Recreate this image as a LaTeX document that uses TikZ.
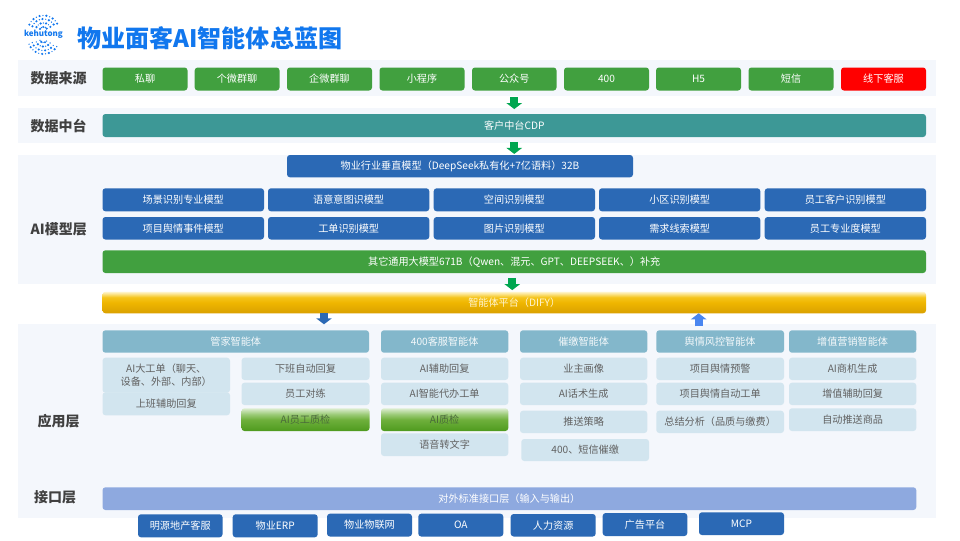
\documentclass[tikz,border=0pt]{standalone}
\usepackage{fontspec}
\setmainfont{Noto Sans CJK SC}
\usetikzlibrary{arrows.meta}
\definecolor{cband}{HTML}{F4F7FC}
\definecolor{cgreen}{HTML}{41A03F}
\definecolor{cteal}{HTML}{3D9896}
\definecolor{cblue}{HTML}{2B69B5}
\definecolor{chead}{HTML}{83B7CB}
\definecolor{citem}{HTML}{D2E5EF}
\definecolor{cif}{HTML}{8EA9DF}
\definecolor{ctitle}{HTML}{1177EE}
\definecolor{clabel}{HTML}{404040}
\definecolor{carrowg}{HTML}{00A650}
\definecolor{carrowb}{HTML}{4A86F0}
\definecolor{dya}{HTML}{DAA000}
\definecolor{dyb}{HTML}{EFB600}
\definecolor{dyc}{HTML}{F5C41A}
\definecolor{dyd}{HTML}{FFF6D0}
\definecolor{qca}{HTML}{4E9A1E}
\definecolor{qcb}{HTML}{6FB03C}
\definecolor{qcc}{HTML}{9CCB78}
\definecolor{qcd}{HTML}{DDEDD0}
\definecolor{qctext}{HTML}{4A6A3A}
\definecolor{dytext}{HTML}{FFF4D0}
\pgfdeclareverticalshading{difyshade}{100bp}{color(0bp)=(dya);color(25bp)=(dya);color(50bp)=(dyb);color(62bp)=(dyc);color(75bp)=(dyd);color(100bp)=(dyd)}
\pgfdeclareverticalshading{qcshade}{100bp}{color(0bp)=(qca);color(25bp)=(qca);color(50bp)=(qcb);color(62bp)=(qcc);color(75bp)=(qcd);color(100bp)=(qcd)}
\tikzset{
  x=0.75pt,y=-0.75pt,
  band/.style={fill=cband,draw=none,inner sep=0pt,outer sep=0pt},
  box/.style={draw=none,rounded corners=2.2pt,inner sep=0pt,outer sep=0pt,align=center,font=\fontsize{7.6}{9.5}\selectfont,text=white},
  srcbox/.style={box,fill=cgreen},
  tealbox/.style={box,fill=cteal},
  bluebox/.style={box,fill=cblue},
  redbox/.style={box,fill=red},
  difybox/.style={box,shading=difyshade,text=dytext},
  headbox/.style={box,fill=chead,text=white!92!chead},
  itembox/.style={box,fill=citem,text=black!62},
  qcbox/.style={box,shading=qcshade,text=qctext},
  ifbox/.style={box,fill=cif},
  layer/.style={inner sep=0pt,font=\fontsize{10.5}{12}\bfseries\selectfont,text=clabel},
  garrow/.style={draw=carrowg,line width=6pt,-{Triangle[width=11.5pt,length=4.5pt]}},
  barrow/.style={draw=cblue,line width=6pt,-{Triangle[width=11.5pt,length=4.5pt]}},
  uarrow/.style={draw=carrowb,line width=6pt,-{Triangle[width=11.5pt,length=4.5pt]}},
}
\newcommand\bx[7]{%
  \pgfmathsetmacro\bw{(#4-#2)*0.75}\pgfmathsetmacro\bh{(#5-#3)*0.75}%
  \node[#6,minimum width=\bw pt,minimum height=\bh pt] (#1) at ({(#2+#4)/2},{(#3+#5)/2}) {#7};}
\begin{document}
\begin{tikzpicture}
\useasboundingbox[fill=white] (0,0) rectangle (960,540);
% bands
\bx{bandA}{18}{60}{936}{96}{band}{}
\bx{bandB}{18}{108}{936}{143}{band}{}
\bx{bandC}{18}{155}{936}{284}{band}{}
\bx{bandD}{18}{324}{936}{518}{band}{}
% logo
\foreach \r/\n/\o in {4/5/8,8/7/3,12/9/12,15.5/11/5}{
  \foreach \i in {1,...,\n}{
    \pgfmathsetmacro\ang{20+140*(\i-0.5)/\n+\o*0.4}
    \fill[ctitle] ({43.5+\r*cos(\ang)},{31-\r*sin(\ang)}) circle ({0.7+0.5*mod(\i,2)});
    \fill[ctitle] ({43.5+\r*cos(\ang+3)},{38.5+\r*sin(\ang+3)}) circle ({0.7+0.5*mod(\i+1,2)});
  }
}
\node[inner sep=0pt,font=\fontsize{6}{7}\bfseries\selectfont,text=ctitle,fill=white,inner xsep=0.3pt,inner ysep=0.2pt] (logo) at (43.5,34.5) {kehutong};
\node[inner sep=0pt,anchor=west,font=\fontsize{18.05}{20}\bfseries\selectfont,text=ctitle] (title) at (77,38) {物业面客AI智能体总蓝图};
% layer labels
\node[layer] (l1) at (58.7,78.5) {数据来源};
\node[layer] (l2) at (58.7,126) {数据中台};
\node[layer] (l3) at (58.7,229) {AI模型层};
\node[layer] (l4) at (58.7,421) {应用层};
\node[layer] (l5) at (55,497) {接口层};
% sources
\bx{s1}{102.5}{67.5}{187.5}{90.5}{srcbox}{私聊}
\bx{s2}{194.7}{67.5}{279.5}{90.5}{srcbox}{个微群聊}
\bx{s3}{287}{67.5}{372}{90.5}{srcbox}{企微群聊}
\bx{s4}{379.5}{67.5}{464.5}{90.5}{srcbox}{小程序}
\bx{s5}{472}{67.5}{556.5}{90.5}{srcbox}{公众号}
\bx{s6}{564}{67.5}{649}{90.5}{srcbox}{400}
\bx{s7}{656}{67.5}{741}{90.5}{srcbox}{H5}
\bx{s8}{748.5}{67.5}{833.5}{90.5}{srcbox}{短信}
\bx{s9}{841}{67.5}{926}{90.5}{redbox}{线下客服}
% CDP
\bx{cdp}{102.5}{114}{926}{137}{tealbox}{客户中台CDP}
% models
\bx{vert}{287}{155}{633}{177.3}{bluebox}{物业行业垂直模型（DeepSeek私有化+7亿语料）32B}
\bx{m11}{102.5}{188.3}{264}{211.3}{bluebox}{场景识别专业模型}
\bx{m12}{268}{188.3}{429.3}{211.3}{bluebox}{语意意图识模型}
\bx{m13}{433.7}{188.3}{595}{211.3}{bluebox}{空间识别模型}
\bx{m14}{599}{188.3}{760.3}{211.3}{bluebox}{小区识别模型}
\bx{m15}{764.7}{188.3}{926}{211.3}{bluebox}{员工客户识别模型}
\bx{m21}{102.5}{217}{264}{239.5}{bluebox}{项目舆情事件模型}
\bx{m22}{268}{217}{429.3}{239.5}{bluebox}{工单识别模型}
\bx{m23}{433.7}{217}{595}{239.5}{bluebox}{图片识别模型}
\bx{m24}{599}{217}{760.3}{239.5}{bluebox}{需求线索模型}
\bx{m25}{764.7}{217}{926}{239.5}{bluebox}{员工专业度模型}
\bx{gen}{102.5}{250.3}{926}{273}{srcbox}{其它通用大模型671B（Qwen、混元、GPT、DEEPSEEK、）补充}
\bx{dify}{102.5}{291.7}{926}{313.3}{difybox}{智能体平台（DIFY）}
% agent heads
\bx{h1}{102.5}{330.3}{369}{352.7}{headbox}{管家智能体}
\bx{h2}{381}{330.3}{508.3}{352.7}{headbox}{400客服智能体}
\bx{h3}{520}{330.3}{647.3}{352.7}{headbox}{催缴智能体}
\bx{h4}{656.3}{330.3}{784}{352.7}{headbox}{舆情风控智能体}
\bx{h5}{789}{330.3}{916.3}{352.7}{headbox}{增值营销智能体}
% housekeeper items
\bx{a1}{102.5}{357.7}{230}{392.7}{itembox}{AI大工单（聊天、\\设备、外部、内部）}
\bx{a2}{102.5}{392.3}{230}{415.3}{itembox}{上班辅助回复}
\bx{a3}{241.5}{357.7}{369.5}{380}{itembox}{下班自动回复}
\bx{a4}{241.5}{382.7}{369.5}{405}{itembox}{员工对练}
\bx{a5}{241.5}{408.3}{369.5}{431}{qcbox}{AI员工质检}
% 400 items
\bx{b1}{381}{357.7}{508.3}{380}{itembox}{AI辅助回复}
\bx{b2}{381}{382.7}{508.3}{405}{itembox}{AI智能代办工单}
\bx{b3}{381}{408.3}{508.3}{431}{qcbox}{AI质检}
\bx{b4}{381}{433.3}{508.3}{456}{itembox}{语音转文字}
% dunning items
\bx{c1}{520}{357.7}{647.3}{380}{itembox}{业主画像}
\bx{c2}{520}{382.7}{647.3}{405}{itembox}{AI话术生成}
\bx{c3}{520}{410.7}{647.3}{433}{itembox}{推送策略}
\bx{c4}{521.3}{439}{649}{461}{itembox}{400、短信催缴}
% sentiment items
\bx{d1}{656.3}{357.7}{784}{380}{itembox}{项目舆情预警}
\bx{d2}{656.3}{382.7}{784}{405}{itembox}{项目舆情自动工单}
\bx{d3}{656.3}{410.7}{784}{433}{itembox}{总结分析（品质与缴费）}
% marketing items
\bx{e1}{789}{357.7}{916.3}{380}{itembox}{AI商机生成}
\bx{e2}{789}{382.7}{916.3}{405}{itembox}{增值辅助回复}
\bx{e3}{789}{408.3}{916.3}{431}{itembox}{自动推送商品}
% interface
\bx{ifl}{102.5}{487.3}{916.3}{510}{ifbox}{对外标准接口层（输入与输出）}
\bx{p1}{138}{514.3}{222.5}{537.3}{bluebox}{明源地产客服}
\bx{p2}{232.7}{514.3}{317.7}{537.3}{bluebox}{物业ERP}
\bx{p3}{327}{513.7}{412}{536.5}{bluebox}{物业物联网}
\bx{p4}{418.3}{513.7}{503.3}{536.5}{bluebox}{OA}
\bx{p5}{510.7}{514}{595.7}{536.5}{bluebox}{人力资源}
\bx{p6}{602.7}{513}{687.3}{536}{bluebox}{广告平台}
\bx{p7}{699}{512.3}{784}{535}{bluebox}{MCP}
% block arrows
\draw[garrow,shorten <=4.9pt,shorten >=3.7pt] (s5.south) -- (s5.south |- cdp.north);
\draw[garrow,shorten <=3.7pt,shorten >=0.8pt] (s5.south |- cdp.south) -- (s5.south |- vert.north);
\draw[garrow,shorten <=3.7pt,shorten >=1.2pt] ([xshift=-1.5pt]gen.south) -- ([xshift=-1.5pt]dify.north);
\coordinate (dnx) at (324,0);
\coordinate (upx) at (698.7,0);
\draw[barrow,shorten >=4.5pt] (dnx |- dify.south) -- (dnx |- h1.north);
\draw[uarrow,shorten <=3pt] (upx |- h4.north) -- (upx |- dify.south);
\end{tikzpicture}
\end{document}
